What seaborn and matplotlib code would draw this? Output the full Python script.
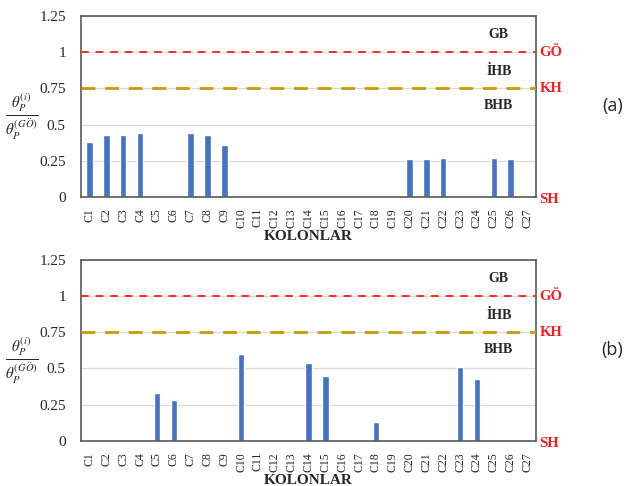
import numpy as np
import pandas as pd
import seaborn as sns
import matplotlib.pyplot as plt

# Data
columns = [f"C{i}" for i in range(1, 28)]
ratio_a = [0.38, 0.43, 0.43, 0.44, 0, 0, 0.44, 0.43, 0.36, 0, 0, 0, 0, 0, 0, 0, 0, 0, 0,
           0.26, 0.26, 0.27, 0, 0, 0.27, 0.26, 0]
ratio_b = [0, 0, 0, 0, 0.33, 0.28, 0, 0, 0, 0.60, 0, 0, 0, 0.54, 0.45, 0, 0, 0.13, 0, 0,
           0, 0, 0.51, 0.43, 0, 0, 0]
y_ticks = [0, 0.25, 0.5, 0.75, 1, 1.25]
y_tick_labels = ["0", "0.25", "0.5", "0.75", "1", "1.25"]
limit_values = [1.0, 0.75, 0.0]
limit_names = ["GÖ", "KH", "SH"]
zone_names = ["GB", "İHB", "BHB"]
zone_y = [1.12, 0.865, 0.63]
panel_tags = ["(a)", "(b)"]

sns.set_theme(style="white")
plt.rcParams["font.family"] = ["Liberation Serif", "DejaVu Serif"]
plt.rcParams["mathtext.fontset"] = "stix"

fig = plt.figure(figsize=(6.29, 4.86), dpi=100)
ax_a = fig.add_axes([0.129, 0.595, 0.723, 0.372])
ax_b = fig.add_axes([0.129, 0.093, 0.723, 0.372])

for ax, vals, tag in [(ax_a, ratio_a, panel_tags[0]), (ax_b, ratio_b, panel_tags[1])]:
    df = pd.DataFrame({"kolon": columns, "oran": vals})
    for y in y_ticks[1:]:
        ax.axhline(y, color="#d9d9d9", lw=0.9, zorder=0)
    sns.barplot(data=df, x="kolon", y="oran", ax=ax, color="#4472c4",
                width=0.38, saturation=1, zorder=2)
    ax.axhline(1.0, color="#ff2a2a", ls=(0, (4, 3.5)), lw=1.4, zorder=3)
    ax.axhline(0.75, color="#c89b00", ls=(0, (5, 3.5)), lw=2.0, zorder=3)
    ax.set_ylim(0, 1.25)
    ax.set_xlim(-0.5, 26.5)
    ax.set_yticks(y_ticks)
    ax.set_yticklabels(y_tick_labels, fontsize=11)
    ax.tick_params(axis="x", rotation=90, labelsize=8.5, pad=2)
    ax.tick_params(axis="y", pad=11, length=0)
    for s in ax.spines.values():
        s.set_color("#595959")
        s.set_linewidth(1.2)
    ax.set_xlabel("KOLONLAR", fontsize=11, fontweight="bold", labelpad=2)
    ax.set_ylabel(r"$\frac{\theta_P^{(i)}}{\theta_P^{(G\ddot{O})}}$", fontsize=15.5,
                  rotation=0, va="center", ha="center")
    ax.yaxis.set_label_coords(-0.13, 0.44)
    for name, y in zip(zone_names, zone_y):
        ax.text(24.3, y, name, fontsize=10, fontweight="bold", ha="center", va="center")
    for name, y in zip(limit_names, limit_values):
        ax.text(26.7, y - (0.02 if name == "SH" else 0), name, fontsize=10.5,
                fontweight="bold", color="#ff1a1a", ha="left", va="center", clip_on=False)
    ax.text(1.168, 0.5, tag, transform=ax.transAxes, fontsize=13,
            family=["Open Sans", "DejaVu Sans"], ha="center", va="center")

fig.savefig("out.png", dpi=100)
